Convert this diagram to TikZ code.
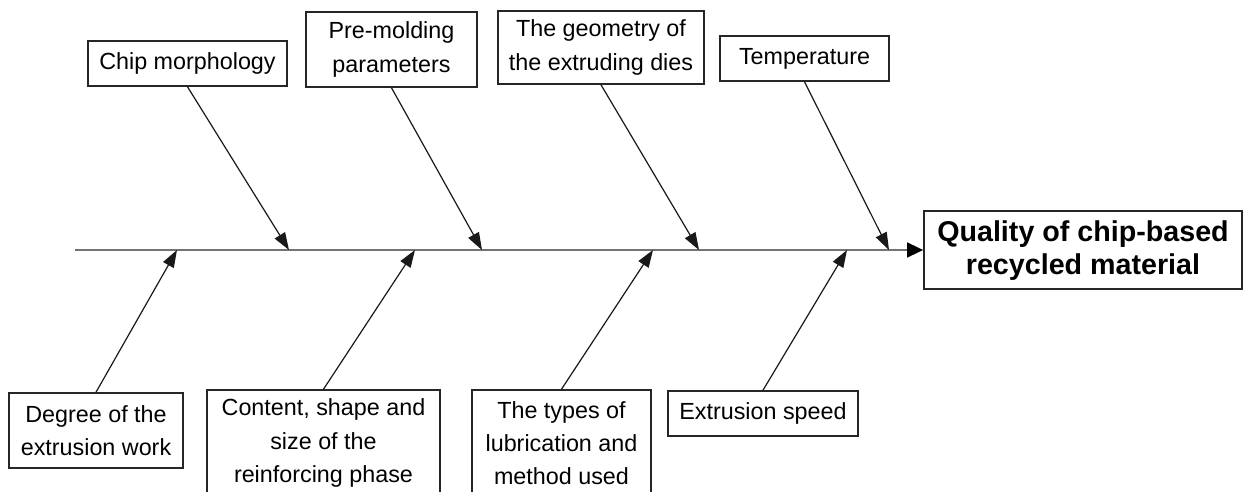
\documentclass[tikz,border=0pt]{standalone}
\usepackage{fontspec}
\setmainfont{Liberation Sans}
\usetikzlibrary{arrows.meta}
\begin{document}
\begin{tikzpicture}[x=0.75pt,y=-0.75pt,
  factor/.style={draw=black!85, line width=1.2pt, fill=white, inner sep=0pt,
    align=center, font=\fontsize{17.5pt}{25pt}\selectfont},
  effect/.style={factor, font=\bfseries\fontsize{21.5pt}{24.75pt}\selectfont},
  spine/.style={draw=black!55, line width=1.8pt,
    -{Triangle[length=12pt,width=11pt,color=black]}},
  cause/.style={draw=black!90, line width=0.9pt, -{Triangle[length=13pt,width=9pt]}}]
\clip (0,0) rectangle (1243,492);
\fill[white] (0,0) rectangle (1243,492);

% effect and backbone
\node[effect, minimum width=238.5pt, minimum height=58.5pt] (main) at (1083,250)
  {\raisebox{-6pt}[0pt][0pt]{\begin{tabular}{@{}c@{}}Quality of chip-based\\recycled material\end{tabular}}};
\coordinate (s0) at (75,250);
\draw[spine] (s0) -- (main.west);

% points where the causes meet the backbone
\coordinate (c1) at (289,250);
\coordinate (c2) at (482,250);
\coordinate (c3) at (699,250);
\coordinate (c4) at (889,250);
\coordinate (d1) at (177,250);
\coordinate (d2) at (415,250);
\coordinate (d3) at (653,250);
\coordinate (d4) at (847,250);

% causes above the backbone
\node[factor, minimum width=149.25pt, minimum height=33.75pt] (chip) at (187.5,63.5)
  {Chip morphology};
\node[factor, minimum width=128.25pt, minimum height=56.25pt] (premold) at (391.5,49.5)
  {Pre-molding\\parameters};
\node[factor, minimum width=154.5pt, minimum height=54.75pt] (geom) at (601,47.5)
  {The geometry of\\the extruding dies};
\node[factor, minimum width=126.75pt, minimum height=33.75pt] (temp) at (804.5,58.5)
  {Temperature};

% causes below the backbone
\node[factor, minimum width=130.5pt, minimum height=56.25pt] (degree) at (96,430.5)
  {Degree of the\\extrusion work};
\node[factor, minimum width=174.75pt, minimum height=79.5pt] (content) at (323.5,443)
  {Content, shape and\\size of the\\reinforcing phase};
\node[factor, minimum width=134.25pt, minimum height=79.5pt] (types) at (561.5,443)
  {The types of\\lubrication and\\method used};
\node[factor, minimum width=142.5pt, minimum height=33.75pt] (speed) at (763,413.5)
  {Extrusion speed};

% connectors
\draw[cause] (chip.south) -- (c1);
\draw[cause] (premold.south) -- (c2);
\draw[cause] (geom.south) -- (c3);
\draw[cause] (temp.south) -- (c4);
\draw[cause] (degree.north) -- (d1);
\draw[cause] (content.north) -- (d2);
\draw[cause] (types.north) -- (d3);
\draw[cause] (speed.north) -- (d4);
\end{tikzpicture}
\end{document}
